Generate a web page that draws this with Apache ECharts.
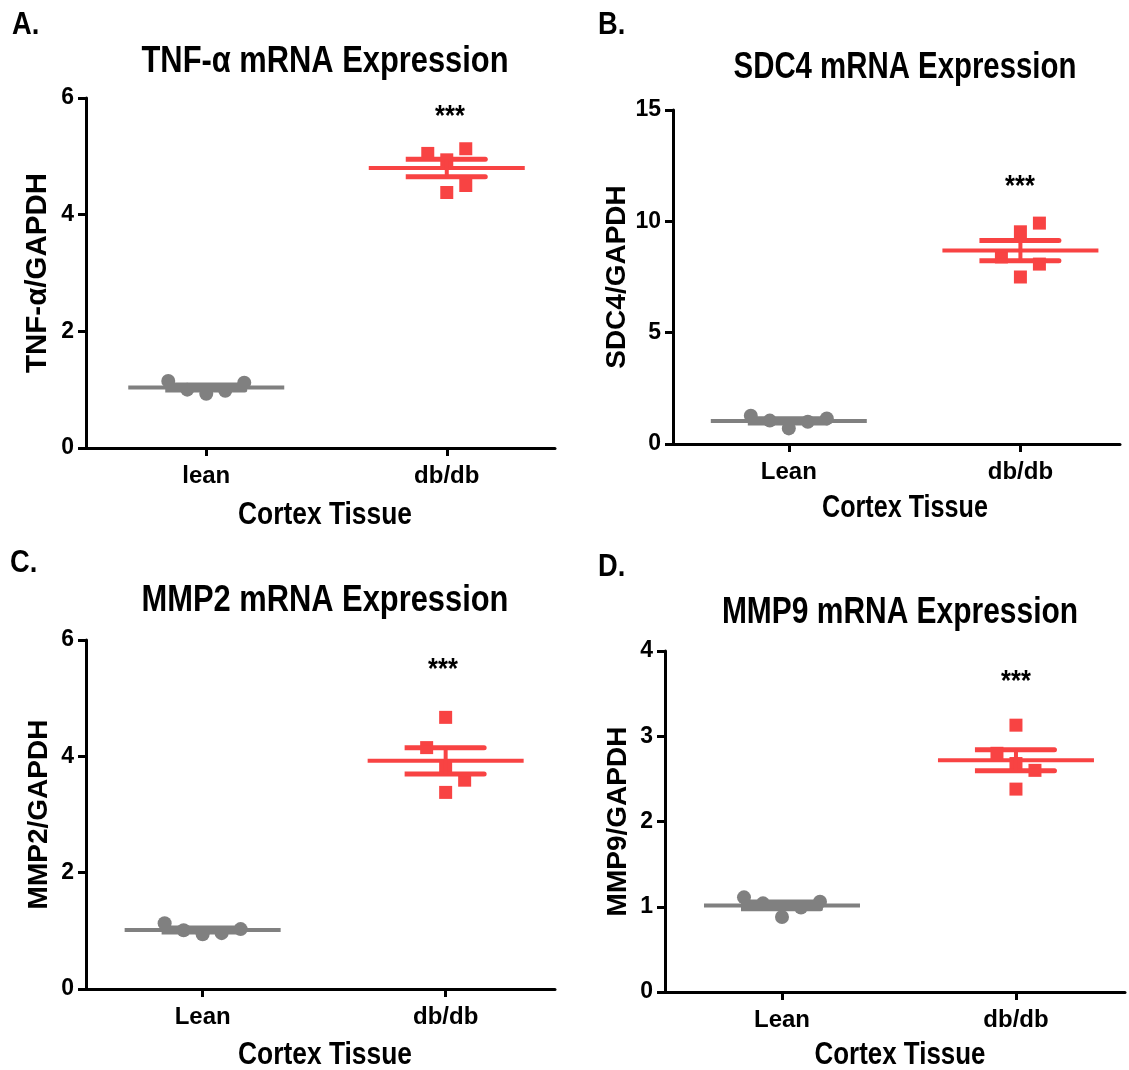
<!DOCTYPE html>
<html>
<head>
<meta charset="utf-8">
<script src="https://cdn.jsdelivr.net/npm/echarts@6/dist/echarts.min.js"></script>
<style>
  html, body { margin: 0; padding: 0; background: #fff; }
  #chart { width: 1129px; height: 1070px; }
</style>
</head>
<body>
<div id="chart"></div>
<script>
// Relative mRNA expression (target / GAPDH), cortex tissue, n = 5 per group
const groups = ['lean', 'db/db'];
const groupsCap = ['Lean', 'db/db'];

const tnfLean = [0.93, 0.98, 1.00, 1.12, 1.15];
const tnfDb   = [4.38, 4.50, 4.94, 5.05, 5.13];

const sdc4Lean = [0.70, 1.00, 1.05, 1.15, 1.27];
const sdc4Db   = [7.50, 8.08, 8.40, 9.53, 9.92];

const mmp2Lean = [0.94, 0.96, 1.01, 1.03, 1.13];
const mmp2Db   = [3.38, 3.59, 3.82, 4.15, 4.67];

const mmp9Lean = [0.88, 0.99, 1.04, 1.06, 1.11];
const mmp9Db   = [2.38, 2.60, 2.68, 2.80, 3.13];

const tnfTicks  = [0, 2, 4, 6];
const sdc4Ticks = [0, 5, 10, 15];
const mmp2Ticks = [0, 2, 4, 6];
const mmp9Ticks = [0, 1, 2, 3, 4];

const xTitle = 'Cortex Tissue';
const significance = '***';

// ---- styling / layout ----
const GRAY = '#808080';
const RED = '#f84343';
const FONT = '"Liberation Sans", Arial, sans-serif';
const STEP = 19;        // horizontal spacing between overlapping dots
const SWARM_GAP = 22;   // vertical distance under which dots are spread out
const MEAN_HALF = 78;   // half length of the mean line
const CAP_HALF = 41;    // half length of the SEM caps

const panels = [
  { letter: 'A.', title: 'TNF-\u03b1 mRNA Expression', yName: 'TNF-\u03b1/GAPDH', cats: groups,
    lean: tnfLean, db: tnfDb, ticks: tnfTicks,
    grid: { left: 86, top: 98, width: 469, height: 350 }, xMin: -0.5, xMax: 1.45,
    squeeze: 0.857, nameSqueeze: 0.824, yNameSize: 29.5,
    letterPos: [12, 25], titlePos: [325, 62], namePos: [325, 515], starPos: [450, 117] },
  { letter: 'B.', title: 'SDC4 mRNA Expression', yName: 'SDC4/GAPDH', cats: groupsCap,
    lean: sdc4Lean, db: sdc4Db, ticks: sdc4Ticks,
    grid: { left: 673, top: 110, width: 447, height: 334 }, xMin: -0.5, xMax: 1.43,
    squeeze: 0.816, nameSqueeze: 0.786, yNameSize: 28,
    letterPos: [598, 25], titlePos: [905, 68], namePos: [905, 508], starPos: [1020, 187] },
  { letter: 'C.', title: 'MMP2 mRNA Expression', yName: 'MMP2/GAPDH', cats: groupsCap,
    lean: mmp2Lean, db: mmp2Db, ticks: mmp2Ticks,
    grid: { left: 86, top: 640, width: 469, height: 349 }, xMin: -0.48, xMax: 1.45,
    squeeze: 0.857, nameSqueeze: 0.824, yNameSize: 28,
    letterPos: [10, 563], titlePos: [325, 601], namePos: [325, 1055], starPos: [443, 670] },
  { letter: 'D.', title: 'MMP9 mRNA Expression', yName: 'MMP9/GAPDH', cats: groupsCap,
    lean: mmp9Lean, db: mmp9Db, ticks: mmp9Ticks,
    grid: { left: 665, top: 651, width: 460, height: 341 }, xMin: -0.5, xMax: 1.466,
    squeeze: 0.832, nameSqueeze: 0.81, yNameSize: 28,
    letterPos: [598, 567], titlePos: [900, 613], namePos: [900, 1055], starPos: [1016, 682] }
];

function mean(a) { return a.reduce((s, v) => s + v, 0) / a.length; }
function sem(a) {
  const m = mean(a);
  const sd = Math.sqrt(a.reduce((s, v) => s + (v - m) * (v - m), 0) / (a.length - 1));
  return sd / Math.sqrt(a.length);
}

// Simple beeswarm: lowest values first, spreading dots that would overlap.
function swarmSlots(values, pxPerUnit) {
  const order = values.map((v, i) => i).sort((a, b) => values[a] - values[b]);
  const slots = new Array(values.length);
  const placed = [];
  let side = 1;
  const free = (slot, y) => placed.every(p => p.slot !== slot || Math.abs(p.y - y) >= SWARM_GAP);
  order.forEach(i => {
    const y = values[i] * pxPerUnit;
    let slot = 0;
    if (!free(0, y)) {
      const s = side; side = -side;
      let k = 1;
      while (!free(s * k, y)) k++;
      slot = s * k;
    }
    slots[i] = slot;
    placed.push({ slot, y });
  });
  return slots;
}

function pointSeries(idx, cat, values, shape, color, pxPerUnit) {
  const slots = swarmSlots(values, pxPerUnit);
  return {
    type: 'custom', xAxisIndex: idx, yAxisIndex: idx, z: 3,
    data: values.map((v, i) => [cat, v, slots[i]]),
    encode: { x: 0, y: 1 },
    renderItem(params, api) {
      const p = api.coord([api.value(0), api.value(1)]);
      const x = p[0] + api.value(2) * STEP;
      if (shape === 'circle') {
        return { type: 'circle', shape: { cx: x, cy: p[1], r: 7 }, style: { fill: color } };
      }
      return { type: 'rect', shape: { x: x - 6.5, y: p[1] - 6.5, width: 13, height: 13 }, style: { fill: color } };
    }
  };
}

function summarySeries(idx, stats) {
  return {
    type: 'custom', xAxisIndex: idx, yAxisIndex: idx, z: 4,
    data: stats.map(s => [s.cat, s.mean, s.sem]),
    encode: { x: 0, y: 1 },
    renderItem(params, api) {
      const col = stats[params.dataIndex].color;
      const c = api.coord([api.value(0), api.value(1)]);
      const top = api.coord([api.value(0), api.value(1) + api.value(2)])[1];
      const bot = api.coord([api.value(0), api.value(1) - api.value(2)])[1];
      return {
        type: 'group',
        children: [
          { type: 'rect', shape: { x: c[0] - MEAN_HALF, y: c[1] - 2, width: MEAN_HALF * 2, height: 4 }, style: { fill: col } },
          { type: 'rect', shape: { x: c[0] - CAP_HALF, y: top - 2.5, width: CAP_HALF * 2, height: 5, r: [0, 2.5, 2.5, 0] }, style: { fill: col } },
          { type: 'rect', shape: { x: c[0] - CAP_HALF, y: bot - 2.5, width: CAP_HALF * 2, height: 5, r: [0, 2.5, 2.5, 0] }, style: { fill: col } },
          { type: 'rect', shape: { x: c[0] - 2, y: top, width: 4, height: bot - top }, style: { fill: col } }
        ]
      };
    }
  };
}

// horizontally condensed text label
function label(text, pos, font, sx, align) {
  return {
    type: 'text', x: pos[0], y: pos[1], scaleX: sx, originX: 0, originY: 0,
    style: { text: text, font: font, fill: '#000', textAlign: align || 'center', textVerticalAlign: 'middle' }
  };
}

const grids = [], xAxes = [], yAxes = [], series = [], graphics = [];

panels.forEach((p, i) => {
  const yMax = p.ticks[p.ticks.length - 1];
  const interval = p.ticks[1] - p.ticks[0];
  const pxPerUnit = p.grid.height / (yMax - p.ticks[0]);
  grids.push(Object.assign({ containLabel: false }, p.grid));
  xAxes.push({
    type: 'value', gridIndex: i, min: p.xMin, max: p.xMax,
    axisLine: { show: true, onZero: false, lineStyle: { color: '#000', width: 3 } },
    axisTick: { show: true, customValues: [0, 1], length: 8, lineStyle: { color: '#000', width: 3 } },
    axisLabel: { customValues: [0, 1], formatter: v => p.cats[Math.round(v)], margin: 16,
      fontFamily: FONT, fontWeight: 'bold', fontSize: 24, color: '#000' },
    splitLine: { show: false }
  });
  yAxes.push({
    type: 'value', gridIndex: i, min: p.ticks[0], max: yMax, interval: interval,
    name: p.yName, nameLocation: 'middle', nameGap: 33, nameRotate: 90,
    nameTextStyle: { fontFamily: FONT, fontWeight: 'bold', fontSize: p.yNameSize, color: '#000' },
    axisLine: { show: true, onZero: false, lineStyle: { color: '#000', width: 3 } },
    axisTick: { show: true, length: 8, lineStyle: { color: '#000', width: 3 } },
    axisLabel: { margin: 12, fontFamily: FONT, fontWeight: 'bold', fontSize: 23, color: '#000' },
    splitLine: { show: false }
  });
  series.push(pointSeries(i, 0, p.lean, 'circle', GRAY, pxPerUnit));
  series.push(pointSeries(i, 1, p.db, 'square', RED, pxPerUnit));
  series.push(summarySeries(i, [
    { cat: 0, mean: mean(p.lean), sem: sem(p.lean), color: GRAY },
    { cat: 1, mean: mean(p.db), sem: sem(p.db), color: RED }
  ]));
  graphics.push(label(p.letter, p.letterPos, 'bold 31px ' + FONT, 0.88, 'left'));
  graphics.push(label(p.title, p.titlePos, 'bold 36px ' + FONT, p.squeeze));
  graphics.push(label(xTitle, p.namePos, 'bold 32px ' + FONT, p.nameSqueeze));
  graphics.push(label(significance, p.starPos, 'bold 30px ' + FONT, 0.85));
});

const chart = echarts.init(document.getElementById('chart'), null, { renderer: 'canvas' });
chart.setOption({
  backgroundColor: '#fff',
  animation: false,
  grid: grids,
  xAxis: xAxes,
  yAxis: yAxes,
  series: series,
  graphic: graphics
});
</script>
</body>
</html>
